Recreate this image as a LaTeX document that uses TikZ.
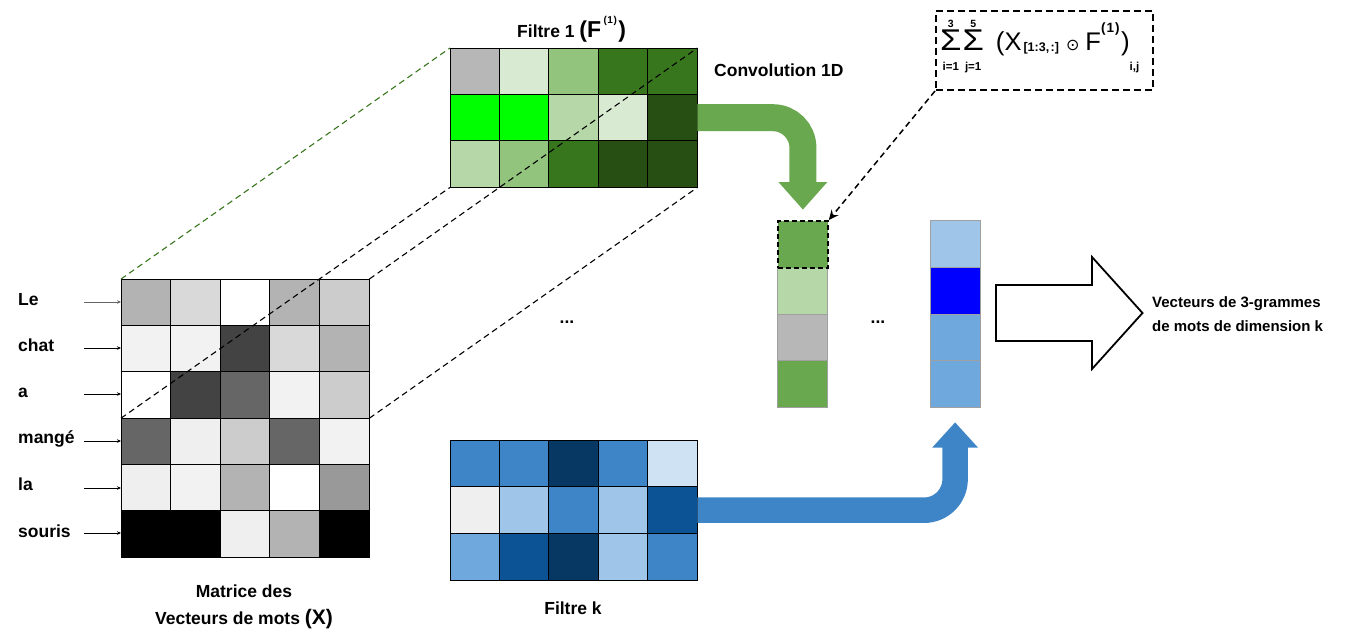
\documentclass[tikz,border=0pt]{standalone}
\usepackage{fontspec}
\setmainfont{Liberation Sans}
\newfontfamily\symfont{DejaVu Sans}
\usetikzlibrary{arrows.meta,calc}
\newcommand\fsz[1]{\fontsize{#1}{#1}\selectfont}
\newcommand\sumop[2]{\raisebox{-20pt}{\vbox{\offinterlineskip\halign{\hfil##\hfil\cr{\fsz{10.5}\bfseries #1}\cr\noalign{\kern3pt}{\fsz{30}\mdseries\scalebox{1.15}[1]{Σ}}\cr\noalign{\kern11.6pt}{\fsz{11.5}\bfseries #2}\cr}}}}
\newcommand\gridrow[5]{\foreach \cc [count=\kk from 0] in {#5}{\definecolor{tmpc}{HTML}{\cc}\filldraw[fill=tmpc,draw=black,line width=0.8pt] ({#1+\kk*#3},{#2}) rectangle ++(#3,#4);}}
\definecolor{garrow}{HTML}{6AA84F}
\definecolor{barrow}{HTML}{3D85C6}
\definecolor{gdash}{HTML}{38761D}
\definecolor{vgray}{HTML}{A0A0A0}
\definecolor{cg1}{HTML}{6AA84F}
\definecolor{cg2}{HTML}{B6D7A8}
\definecolor{cg3}{HTML}{B7B7B7}
\definecolor{cb1}{HTML}{9FC5E8}
\definecolor{cb2}{HTML}{0000FF}
\definecolor{cb3}{HTML}{6FA8DC}
\begin{document}
\begin{tikzpicture}[x=1pt,y=-1pt,
  lbl/.style={font=\fsz{17.5}\bfseries, inner sep=0},
  frame/.style={minimum width=#1, inner sep=0, anchor=north west},
  vcell/.style={draw=vgray, line width=0.7pt, minimum width=50pt, minimum height=46.75pt, inner sep=0, anchor=north west},
  dline/.style={line width=1.1pt, dash pattern=on 6pt off 4pt},
  wordarrow/.style={line width=0.9pt, -{Stealth[length=4pt,width=3.5pt]}}]
\useasboundingbox (0,0) rectangle (1357,635);

% matrix X
\node[frame=248pt, minimum height=278pt] (X) at (121,279) {};
\gridrow{121}{279}{49.6}{46.33}{B3B3B3,D9D9D9,FFFFFF,B3B3B3,CCCCCC}
\gridrow{121}{325.33}{49.6}{46.33}{F2F2F2,F2F2F2,434343,D9D9D9,B3B3B3}
\gridrow{121}{371.67}{49.6}{46.33}{FFFFFF,434343,666666,F2F2F2,CCCCCC}
\gridrow{121}{418}{49.6}{46.33}{666666,EFEFEF,CCCCCC,666666,F2F2F2}
\gridrow{121}{464.33}{49.6}{46.33}{EFEFEF,F2F2F2,B3B3B3,FFFFFF,999999}
\gridrow{121}{510.67}{49.6}{46.33}{000000,000000,EFEFEF,B3B3B3,000000}

% filter 1
\node[frame=247pt, minimum height=139pt] (F1) at (450,48) {};
\gridrow{450}{48}{49.4}{46.33}{B7B7B7,D9EAD3,93C47D,38761D,38761D}
\gridrow{450}{94.33}{49.4}{46.33}{00FF00,00FF00,B6D7A8,D9EAD3,274E13}
\gridrow{450}{140.67}{49.4}{46.33}{B6D7A8,93C47D,38761D,274E13,274E13}

% filter k
\node[frame=247pt, minimum height=140pt] (Fk) at (450,440) {};
\gridrow{450}{440}{49.4}{46.67}{3D85C6,3D85C6,073763,3D85C6,CFE2F3}
\gridrow{450}{486.67}{49.4}{46.67}{EFEFEF,9FC5E8,3D85C6,9FC5E8,0B5394}
\gridrow{450}{533.33}{49.4}{46.67}{6FA8DC,0B5394,073763,9FC5E8,3D85C6}

% dashed projection lines
\coordinate (xmidL) at ($(X.north west)!0.5!(X.south west)$);
\coordinate (xmidR) at ($(X.north east)!0.5!(X.south east)$);
\draw[dline, draw=gdash] (X.north west) -- (F1.north west);
\draw[dline] (X.north east) -- (F1.north east);
\draw[dline] (xmidL) -- (F1.south west);
\draw[dline] (xmidR) -- (F1.south east);

% output vectors
\node[vcell, fill=cg2] (v1b) at (777,266.75) {};
\node[vcell, fill=cg3] (v1c) at (777,313.5) {};
\node[vcell, fill=cg1] (v1d) at (777,360.25) {};
\node[vcell, fill=cg1, draw=black, line width=1.8pt, dash pattern=on 5pt off 3pt] (v1a) at (777,220) {};
\node[vcell, minimum width=49.5pt, fill=cb1] (v2a) at (930,220) {};
\node[vcell, minimum width=49.5pt, fill=cb2] (v2b) at (930,266.75) {};
\node[vcell, minimum width=49.5pt, fill=cb3] (v2c) at (930,313.5) {};
\node[vcell, minimum width=49.5pt, fill=cb3] (v2d) at (930,360.25) {};

% green arrow
\draw[line width=27pt, draw=garrow, rounded corners=30pt] (F1.east) -- (F1.east -| v1a.north) -- ([yshift=37pt]v1a.north);
\fill[garrow] ([xshift=-24.5pt,yshift=38pt]v1a.north) -- ([xshift=24.5pt,yshift=38pt]v1a.north) -- ([yshift=10.5pt]v1a.north) -- cycle;

% blue arrow
\draw[line width=25.5pt, draw=barrow, rounded corners=31pt] (Fk.east) -- (Fk.east -| v2d.south) -- ([yshift=-39pt]v2d.south);
\fill[barrow] ([xshift=-23pt,yshift=-40pt]v2d.south) -- ([xshift=23pt,yshift=-40pt]v2d.south) -- ([yshift=-14.7pt]v2d.south) -- cycle;

% big white arrow
\draw[line width=1.8pt, fill=white, line join=miter] (996,285) -- (1092,285) -- (1092,257) -- (1142.5,313) -- (1092,369) -- (1092,341) -- (996,341) -- cycle;

% formula box and pointer
\node[draw, line width=2pt, dash pattern=on 7pt off 4pt, frame=217pt, minimum height=79pt] (fbox) at (935,10) {};
\node[anchor=base west, inner sep=0] (formula) at (940,50.7) {\sumop{3}{i=1}\hspace{1pt}\sumop{5}{j=1}\hspace{12pt}{\fsz{26}(}{\fsz{25.5}X}\hspace{2pt}\raisebox{-1pt}{\fsz{12.5}\bfseries [1:3,\hspace{1.5pt}:]}\hspace{7pt}{\symfont\fsz{16}⊙}\hspace{6pt}{\fsz{25.5}F}\raisebox{18pt}{\fsz{13.5}\bfseries (\hspace{1pt}1\hspace{1pt})}\hspace{1.5pt}{\fsz{26})}\raisebox{-20pt}{\fsz{11.5}\bfseries i,j}};
\draw[line width=1.5pt, dash pattern=on 6pt off 4pt, -{Stealth[length=10pt,width=9pt,inset=3.5pt]}] (fbox.south west) -- (v1a.north east);

% word labels
\node[lbl, anchor=base west] (wLe) at (18,305) {Le};
\node[lbl, anchor=base west] (wchat) at (18,351) {chat};
\node[lbl, anchor=base west] (wa) at (18,397) {a};
\node[lbl, anchor=base west] (wmange) at (18,443) {mangé};
\node[lbl, anchor=base west] (wla) at (18,490) {la};
\node[lbl, anchor=base west] (wsouris) at (18,537) {souris};
\coordinate (s1) at (84,302);
\coordinate (s2) at (84,348);
\coordinate (s3) at (84,394);
\coordinate (s4) at (84,441);
\coordinate (s5) at (84,488);
\coordinate (s6) at (84,533);
\draw[wordarrow, draw=black!60] (s1) -- (s1 -| X.west);
\foreach \s in {s2,s3,s4,s5,s6} \draw[wordarrow] (\s) -- (\s -| X.west);

% titles
\node[lbl, anchor=base west] (t1) at (517,37.5) {Filtre 1 {\fsz{23}(F}\hspace{2.5pt}\raisebox{14pt}{\fsz{10}(\hspace{0.5pt}1\hspace{0.5pt})}\hspace{1.5pt}{\fsz{23})}};
\node[lbl, anchor=base west] (conv) at (714,76) {Convolution 1D};
\node[lbl, anchor=base] (xlab1) at (244,597) {Matrice des};
\node[lbl, anchor=base] (xlab2) at (244,624) {Vecteurs de mots {\fsz{21}(X)}};
\node[lbl, anchor=base] (fklab) at (573,614) {Filtre k};
\node[lbl, anchor=base] (dots1) at (567,323) {...};
\node[lbl, anchor=base] (dots2) at (878,323) {...};
\node[font=\fsz{15}\bfseries, inner sep=0, anchor=base west] (rt1) at (1152,307) {Vecteurs de 3-grammes};
\node[font=\fsz{15}\bfseries, inner sep=0, anchor=base west] (rt2) at (1152,331) {de mots de dimension k};
\end{tikzpicture}
\end{document}
